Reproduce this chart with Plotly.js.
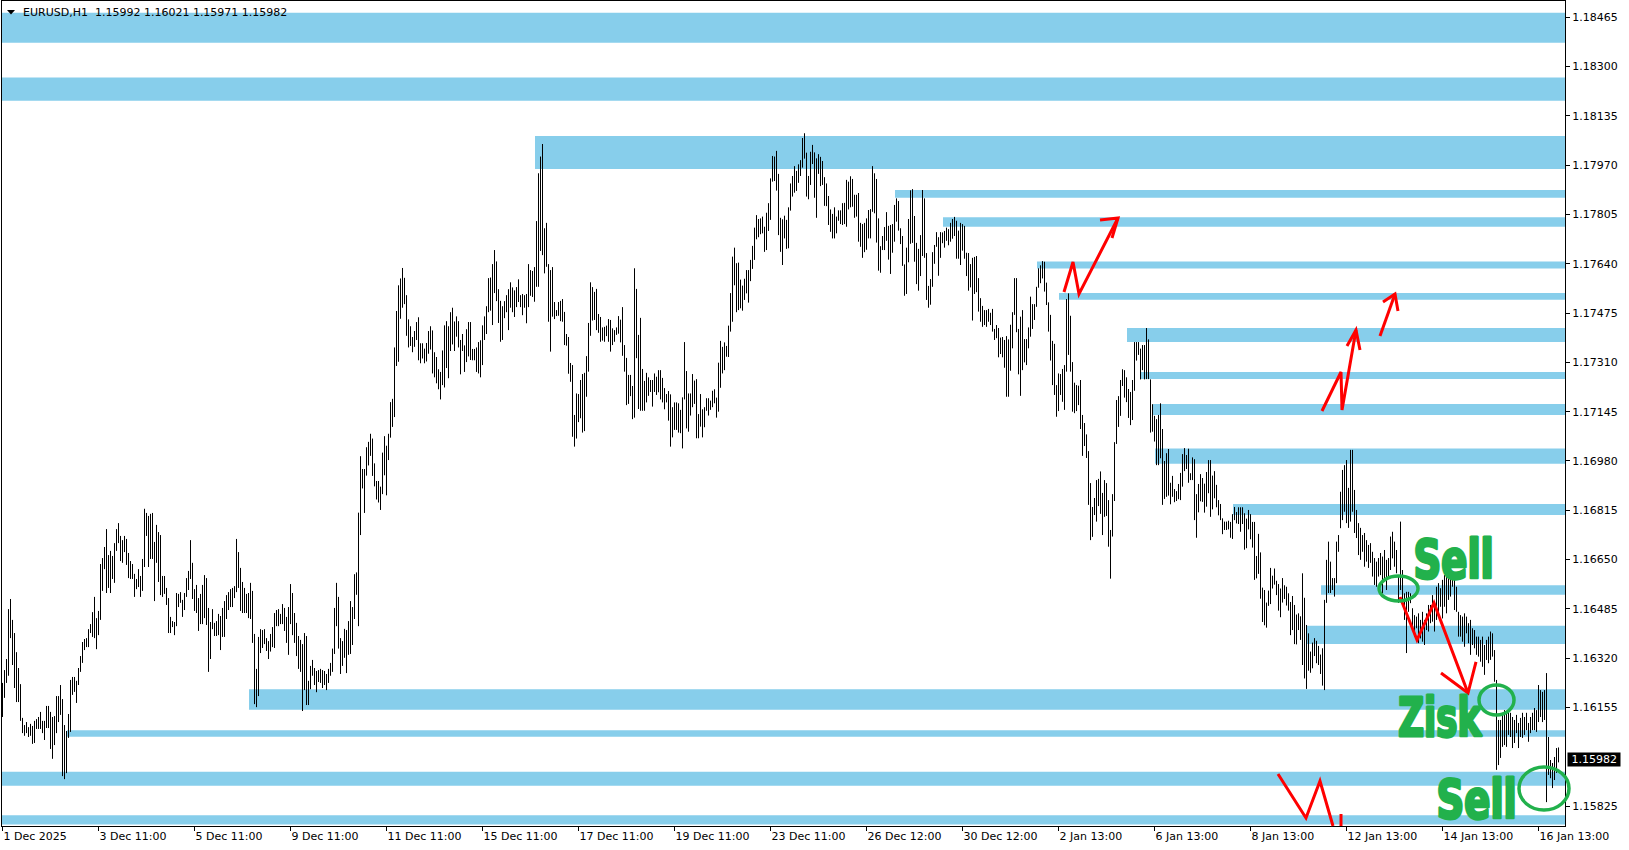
<!DOCTYPE html>
<html><head><meta charset="utf-8">
<script src="https://cdn.plot.ly/plotly-3.0.1.min.js"></script>
<style>html,body{margin:0;padding:0;background:#fff;overflow:hidden}#chart{width:1629px;height:850px}</style>
</head><body><div id="chart"></div>
<script>
// ---------- DATA ----------
const symbolLabel = "EURUSD,H1";
const lastOHLC = ["1.15992", "1.16021", "1.15971", "1.15982"];
const lastClose = 1.15982;
// H1 bar highs / lows, in points above 1.00000 (price = 1 + v / 100000)
const barHigh = [
16237,16280,16317,16484,16518,16448,16404,16340,16287,16233,
16120,16096,16106,16089,16100,16093,16110,16116,16123,16140,
16110,16110,16160,16160,16140,16123,16126,16193,16193,16230,
16183,16096,16076,16133,16247,16257,16257,16244,16287,16327,
16374,16384,16387,16417,16434,16474,16525,16454,16478,16635,
16655,16692,16752,16665,16679,16662,16705,16752,16772,16729,
16715,16729,16719,16672,16645,16635,16602,16585,16618,16595,
16652,16820,16806,16796,16803,16806,16709,16766,16742,16732,
16595,16595,16555,16521,16458,16444,16441,16538,16535,16541,
16515,16538,16588,16612,16715,16639,16551,16565,16521,16535,
16565,16598,16588,16488,16441,16484,16438,16444,16468,16461,
16488,16511,16531,16541,16551,16555,16561,16719,16675,16622,
16575,16555,16535,16538,16572,16545,16401,16284,16391,16417,
16414,16417,16387,16377,
16401,16424,16471,16481,16484,16468,16501,16488,16458,16491,
16568,16538,16471,16438,16394,16381,16367,16404,16394,16244,
16294,16314,16287,16277,16280,16284,16280,16277,16267,16284,
16304,16352,16488,16572,16525,16387,16377,16418,16414,16444,
16511,16491,16601,16607,16807,16996,16953,16953,17026,17044,
17071,17055,16972,16913,16913,16894,17008,17063,17031,17071,
17177,17188,17360,17482,17568,17591,17626,17593,17535,17454,
17431,17395,17415,17445,17461,17374,17374,17356,17375,17415,
17431,17417,17344,17328,17287,17278,17350,17434,17448,17431,
17478,17493,17447,17464,17448,17385,17405,17367,17421,17445,
17445,17355,17355,17360,17378,17384,17434,17464,17498,17592,
17594,17639,17686,17648,17555,17516,17498,17515,17535,17555,
17578,17561,17551,17562,17588,17535,17539,17535,17539,17639,
17619,17616,17629,17783,17943,
17999,18041,17759,17777,17639,17619,17629,17512,17485,17512,
17516,17522,17479,17405,17395,17308,17301,17134,17206,17204,
17251,17271,17275,17331,17442,17578,17562,17546,17556,17472,
17462,17427,17429,17433,17455,17452,17424,17418,17427,17465,
17453,17495,17368,17325,17268,17268,17231,17625,17556,17402,
17459,17288,17248,17275,17260,17251,17251,17273,17262,17284,
17284,17258,17224,17204,17214,17203,17160,17176,17176,17173,
17151,17193,17378,17281,17206,17206,17271,17249,17254,17137,
17204,17153,17160,17190,17190,17182,17215,17220,17192,17309,
17382,17362,17377,17365,17433,17542,17664,17694,17642,17644,
17587,17567,17590,17619,17619,17653,17700,17761,17803,17790,
17792,17798,17764,17811,17843,17926,18001,17999,18018,17941,
17794,17789,17801,17787,17829,17909,17934,17967,17951,17973,
17987,18061,18077,18012,17934,
18015,18038,18013,17993,18007,17998,17984,17930,17909,17867,
17822,17807,17829,17798,17819,17819,17843,17844,17921,17915,
17933,17924,17871,17871,17877,17777,17773,17777,17792,17820,
17823,17967,17943,17924,17792,17699,17733,17763,17813,17767,
17770,17773,17837,17859,17850,17759,17733,17638,17694,17790,
17886,17890,17800,17710,17690,17736,17887,17859,17676,17566,
17589,17679,17703,17746,17729,17746,17745,17750,17761,17756,
17777,17790,17797,17784,17751,17777,17773,17767,17677,17676,
17639,17660,17663,17666,17592,17525,17499,17485,17485,17489,
17476,17489,17422,17435,17425,17393,17395,17385,17398,17387,
17436,17478,17592,17592,17422,17463,17485,17388,17388,17427,
17530,17505,17505,17563,17625,17635,17649,17647,17577,17511,
17469,17382,17372,17234,17273,17271,17288,17301,17522,17541,
17466,17311,17242,17234,17232,
17251,17134,17107,17069,17013,16906,16826,16856,16916,16920,
16945,16873,16916,16906,16849,16749,16869,17043,17184,17197,
17251,17287,17284,17260,17221,17211,17251,17378,17378,17378,
17356,17368,17368,17425,17387,17253,17170,17131,17120,17134,
17173,17087,16980,17006,17020,16907,16930,16886,16879,16903,
16940,17003,17023,17000,17021,16939,16992,16986,16869,16903,
16936,16923,16904,16943,16983,16983,16931,16946,16900,16849,
16836,16788,16777,16777,16780,16776,16802,16826,16809,16825,
16825,16825,16805,16787,16816,16802,16776,16776,16662,16736,
16674,16556,16548,16506,16546,16622,16596,16620,16579,16568,
16553,16588,16564,16559,16537,16508,16528,16498,16466,16470,
16460,16604,16522,16431,16403,16342,16372,16387,16378,16361,
16332,16353,16515,16649,16710,
16643,16588,16588,16710,16732,16877,16950,16966,16983,16890,
17017,17017,16883,16816,16772,16756,16732,16739,16715,16699,
16705,16676,16655,16643,16655,16672,16660,16682,16649,16655,
16727,16743,16710,16682,16598,16777,16615,16537,16542,16542,
16537,16487,16464,16459,16470,16448,16475,16448,16470,16498,
16498,16531,16498,16559,16571,16554,16582,16598,16604,16615,
16593,16609,16582,16559,16475,16464,16459,16470,16459,16437,
16448,16420,16414,16392,16392,16381,16392,16364,16381,16392,
16409,16403,16347,16247,16113,16113,16137,16146,16137,16146,
16137,16123,16113,16130,16103,16120,16137,16123,16137,16103,
16123,16137,16153,16146,16230,16213,16207,16213,16270,16056,
15979,15969,15989,16019,16021
];
const barLow = [
16123,16187,16237,16261,16387,16297,16220,16173,16173,16110,
16069,16060,16069,16056,16060,16033,16036,16083,16083,16083,
16069,16046,16086,16086,16016,15983,16029,16069,16106,16130,
15925,15915,15935,16053,16073,16197,16207,16170,16230,16274,
16304,16347,16357,16357,16404,16391,16387,16350,16397,16448,
16545,16618,16538,16555,16538,16585,16572,16679,16705,16645,
16639,16675,16632,16588,16585,16585,16525,16551,16558,16525,
16545,16625,16729,16625,16652,16652,16511,16639,16575,16531,
16525,16535,16498,16404,16404,16424,16397,16427,16491,16505,
16458,16481,16525,16548,16585,16518,16478,16471,16411,16434,
16434,16454,16431,16274,16317,16417,16394,16394,16397,16347,
16391,16391,16451,16481,16491,16491,16521,16541,16555,16478,
16471,16471,16471,16454,16451,16371,16166,16156,16193,16337,
16354,16367,16344,16317,
16342,16357,16354,16427,16427,16434,16434,16411,16371,16331,
16434,16397,16371,16327,16284,16274,16143,16213,16163,16163,
16216,16261,16230,16206,16240,16237,16220,16230,16213,16237,
16261,16274,16334,16427,16352,16267,16294,16321,16270,16331,
16334,16364,16451,16532,16427,16732,16888,16806,16931,16965,
16997,16930,16895,16851,16841,16816,16869,16932,16865,16983,
17058,17094,17127,17298,17312,17456,17493,17505,17399,17360,
17365,17344,17362,17385,17317,17307,17323,17307,17313,17339,
17353,17273,17260,17240,17220,17186,17234,17226,17291,17257,
17348,17370,17348,17396,17360,17270,17348,17278,17311,17330,
17318,17317,17317,17278,17273,17260,17301,17385,17405,17478,
17483,17435,17542,17515,17442,17379,17385,17458,17478,17418,
17493,17478,17462,17495,17512,17495,17468,17493,17441,17495,
17533,17529,17513,17563,17563,
17683,17669,17608,17630,17446,17346,17463,17455,17465,17466,
17448,17446,17368,17366,17272,17245,17061,17028,17055,17110,
17123,17075,17080,17195,17279,17399,17450,17452,17418,17409,
17379,17383,17379,17398,17379,17346,17368,17379,17402,17406,
17377,17332,17279,17167,17171,17197,17120,17125,17324,17154,
17148,17148,17148,17176,17198,17211,17162,17211,17201,17210,
17186,17176,17153,17176,17115,17028,17059,17084,17084,17075,
17073,17022,17186,17089,17078,17132,17160,17171,17056,17056,
17095,17059,17093,17148,17132,17151,17160,17173,17125,17145,
17225,17273,17284,17329,17328,17413,17446,17568,17478,17485,
17491,17483,17519,17541,17510,17582,17623,17653,17722,17729,
17739,17742,17680,17686,17750,17787,17915,17917,17885,17736,
17680,17636,17725,17690,17692,17818,17865,17878,17884,17911,
17934,17962,17992,17865,17856,
17904,17974,17861,17794,17941,17900,17904,17834,17833,17770,
17747,17725,17725,17742,17784,17773,17770,17773,17764,17822,
17829,17831,17794,17798,17714,17697,17660,17679,17687,17725,
17725,17814,17809,17711,17617,17610,17686,17686,17717,17654,
17606,17677,17714,17781,17751,17706,17633,17533,17539,17645,
17707,17710,17647,17572,17550,17599,17666,17660,17519,17493,
17503,17563,17640,17697,17600,17660,17709,17694,17717,17702,
17714,17724,17733,17657,17657,17636,17684,17657,17599,17550,
17561,17450,17539,17545,17480,17446,17429,17435,17429,17446,
17435,17413,17385,17391,17327,17338,17327,17292,17195,17195,
17282,17357,17469,17411,17270,17198,17284,17310,17301,17357,
17396,17422,17452,17496,17560,17575,17591,17547,17502,17413,
17316,17234,17201,17128,17147,17201,17178,17151,17279,17335,
17279,17145,17140,17147,17167,
17087,16997,17030,16990,16833,16715,16726,16799,16777,16829,
16803,16732,16793,16796,16693,16586,16727,16846,17037,17094,
17131,17231,17192,17177,17124,17100,17117,17215,17316,17335,
17253,17284,17253,17254,17254,17075,17078,17045,16966,16966,
16989,16833,16853,16860,16864,16835,16860,16842,16846,16852,
16849,16894,16946,16953,16907,16916,16916,16782,16723,16808,
16845,16843,16807,16827,16872,16793,16818,16855,16825,16798,
16782,16735,16749,16749,16751,16723,16719,16782,16771,16769,
16743,16769,16683,16688,16751,16718,16690,16582,16587,16602,
16519,16441,16430,16422,16495,16501,16553,16566,16531,16479,
16457,16506,16518,16496,16479,16397,16414,16367,16366,16414,
16381,16297,16252,16217,16278,16271,16286,16327,16303,16297,
16267,16228,16213,16505,16538,
16538,16548,16526,16571,16676,16755,16782,16810,16772,16756,
16777,16810,16739,16722,16665,16649,16676,16626,16643,16622,
16639,16593,16565,16559,16593,16598,16537,16576,16548,16593,
16615,16654,16626,16604,16505,16548,16515,16448,16337,16475,
16504,16420,16392,16420,16370,16386,16375,16364,16414,16409,
16437,16442,16409,16448,16470,16492,16453,16492,16470,16515,
16526,16559,16481,16475,16392,16392,16375,16358,16403,16370,
16331,16364,16353,16331,16325,16308,16291,16264,16314,16303,
16314,16325,16241,15946,15962,15986,16023,16029,16023,16063,
16056,16019,16036,16069,16019,16056,16053,16063,16079,16040,
16069,16079,16079,16073,16106,16123,16106,16113,15838,15929,
15918,15885,15912,15936,15971
];
// time axis labels (bar index of each label, 48 H1 bars apart)
const xTickBars = [0,48,96,144,192,240,288,336,384,432,480,528,576,624,672,720,768];
const xTickText = ["1 Dec 2025","3 Dec 11:00","5 Dec 11:00","9 Dec 11:00","11 Dec 11:00","15 Dec 11:00",
  "17 Dec 11:00","19 Dec 11:00","23 Dec 11:00","26 Dec 12:00","30 Dec 12:00","2 Jan 13:00",
  "6 Jan 13:00","8 Jan 13:00","12 Jan 13:00","14 Jan 13:00","16 Jan 13:00"];
const yTickVals = [1.15825,1.16155,1.16320,1.16485,1.16650,1.16815,1.16980,1.17145,1.17310,
  1.17475,1.17640,1.17805,1.17970,1.18135,1.18300,1.18465];
// support / resistance zones (price band and first bar of the band)
const zoneTop    = [1.18480,1.18264,1.18068,1.17887,1.17796,1.17648,1.17542,1.17425,1.17278,1.17171,1.17022,1.16836,1.16564,1.16428,1.16216,1.16079,1.15940,1.15794];
const zoneBottom = [1.18380,1.18186,1.17957,1.17861,1.17764,1.17624,1.17520,1.17378,1.17254,1.17134,1.16971,1.16799,1.16532,1.16367,1.16147,1.16057,1.15893,1.15763];
const zoneFromBar = [-1,-1,266.25,446.25,470.25,517.25,528.25,562.25,569.25,575.25,576.25,615.25,659.25,652.25,123.25,32.1,-1,-1];
const noteTexts = ["Sell", "Zisk", "Sell"];

// ---------- BUILD ----------
const n = Math.min(barHigh.length, barLow.length);
const bx = [], by = [];
for (let i = 0; i < n; i++) {
  bx.push(i, i, null);
  by.push(1 + barLow[i] / 100000, 1 + barHigh[i] / 100000, null);
}
const FONT = "DejaVu Sans, Verdana, sans-serif";
const ZONE = "#87CEEB";
const GREEN = "#22b14c";
const RED = "#ff0000";
// pixel helpers for hand-drawn decorations (plot area: x 2..1565, y 1..826)
const PX = p => (p - 2) / 1563;
const PY = p => (826 - p) / 825;
const path = pts => "M" + pts.map(p => PX(p[0]).toFixed(5) + "," + PY(p[1]).toFixed(5)).join(" L");

const shapes = [];
for (let k = 0; k < zoneTop.length; k++) {
  shapes.push({type: "rect", xref: "x", yref: "y", x0: zoneFromBar[k], x1: 800,
    y0: zoneBottom[k], y1: zoneTop[k], fillcolor: ZONE, line: {width: 0}, layer: "below"});
}
const redLines = [
  [[1064,292],[1073,262],[1079,294],[1118,218]],
  [[1100,220],[1118,218],[1112,238]],
  [[1322,411],[1341,372],[1342,410],[1356,330]],
  [[1347,346],[1356,330],[1360,350]],
  [[1380,336],[1395,294]],
  [[1383,302],[1395,294],[1398,311]],
  [[1400,597],[1417,640],[1434,603],[1468,693]],
  [[1441,673],[1468,693],[1476,662]],
  [[1278,774],[1306,818],[1320,781],[1333,826]],
  [[1341,814],[1341,826]]
];
redLines.forEach(pts => shapes.push({type: "path", xref: "paper", yref: "paper", path: path(pts),
  line: {color: RED, width: 3}, layer: "above"}));
const rings = [[1379,1418,576,601],[1479,1514,685,715],[1519,1569,767,810]];
rings.forEach(r => shapes.push({type: "circle", xref: "paper", yref: "paper",
  x0: PX(r[0]), x1: PX(r[1]), y0: PY(r[3]), y1: PY(r[2]), line: {color: GREEN, width: 3.5}, layer: "above"}));
// title marker triangle
shapes.push({type: "path", xref: "paper", yref: "paper", path: path([[7,10],[15,10],[11,14.5]]) + " Z",
  fillcolor: "#000", line: {width: 0}});

const noteFont = {family: "DejaVu Sans Condensed, DejaVu Sans, sans-serif", size: 53, color: GREEN, weight: "bold"};
// hand-written notes: centre pixel and target ink width
const notePos = [[1453.5, 559, 77], [1439.5, 717.5, 81], [1476.5, 799, 77]];
const annotations = [
  {xref: "paper", yref: "paper", x: PX(21), y: PY(12.7), xanchor: "left", yanchor: "middle", showarrow: false,
   text: symbolLabel + "\u00a0 " + lastOHLC.join(" "), font: {family: FONT, size: 11, color: "#000"}},
  {xref: "paper", yref: "y", x: 1, xshift: 2, y: lastClose, xanchor: "left", yanchor: "middle", showarrow: false,
   text: "\u00a0" + lastClose.toFixed(5) + "\u00a0", bgcolor: "#000", borderpad: 0, font: {family: FONT, size: 11, color: "#fff"}}
];
noteTexts.forEach((t, k) => annotations.push({xref: "paper", yref: "paper", x: PX(notePos[k][0]), y: PY(notePos[k][1]),
  xanchor: "center", yanchor: "middle", showarrow: false, text: t, font: noteFont}));

const trace = {type: "scatter", mode: "lines", x: bx, y: by, connectgaps: false,
  line: {color: "#000", width: 1}, hoverinfo: "skip", showlegend: false};

const layout = {
  width: 1629, height: 850,
  margin: {l: 2, r: 64, t: 1, b: 24, pad: 0},
  paper_bgcolor: "#fff", plot_bgcolor: "#fff",
  showlegend: false,
  font: {family: FONT, size: 11, color: "#000"},
  xaxis: {range: [-0.25, 781.25], tickmode: "array", tickvals: xTickBars, ticktext: xTickText,
    ticks: "outside", ticklen: 4, tickcolor: "#000", showgrid: false, zeroline: false,
    showline: true, linecolor: "#000", linewidth: 1, mirror: true,
    ticklabelposition: "outside right", tickfont: {family: FONT, size: 11, color: "#000"}, fixedrange: true},
  yaxis: {range: [1.157581, 1.185197], side: "right", tickmode: "array", tickvals: yTickVals,
    ticktext: yTickVals.map(v => v.toFixed(5)), ticks: "outside", ticklen: 4, tickcolor: "#000",
    showgrid: false, zeroline: false, showline: true, linecolor: "#000", linewidth: 1, mirror: true,
    tickfont: {family: FONT, size: 11, color: "#000"}, fixedrange: true},
  shapes: shapes,
  annotations: annotations
};
Plotly.newPlot("chart", [trace], layout, {staticPlot: true, displayModeBar: false}).then(gd => {
  // condense the heavy hand-written notes horizontally (Impact-like look)
  const groups = gd.querySelectorAll("g.annotation");
  groups.forEach(g => {
    const idx = +g.getAttribute("data-index");
    if (idx < 2) return;
    const k = idx - 2;
    const txt = g.querySelector("text.annotation-text");
    if (!txt) return;
    txt.style.stroke = GREEN;
    txt.style.strokeWidth = "3px";
    txt.style.strokeLinejoin = "round";
    const bb = txt.getBBox();
    const cx = bb.x + bb.width / 2;
    const sx = notePos[k][2] / Math.max(1, bb.width - 4);
    txt.setAttribute("transform", "translate(" + (cx * (1 - sx)) + ",0) scale(" + sx + ",1)");
  });
});
</script>
</body></html>
